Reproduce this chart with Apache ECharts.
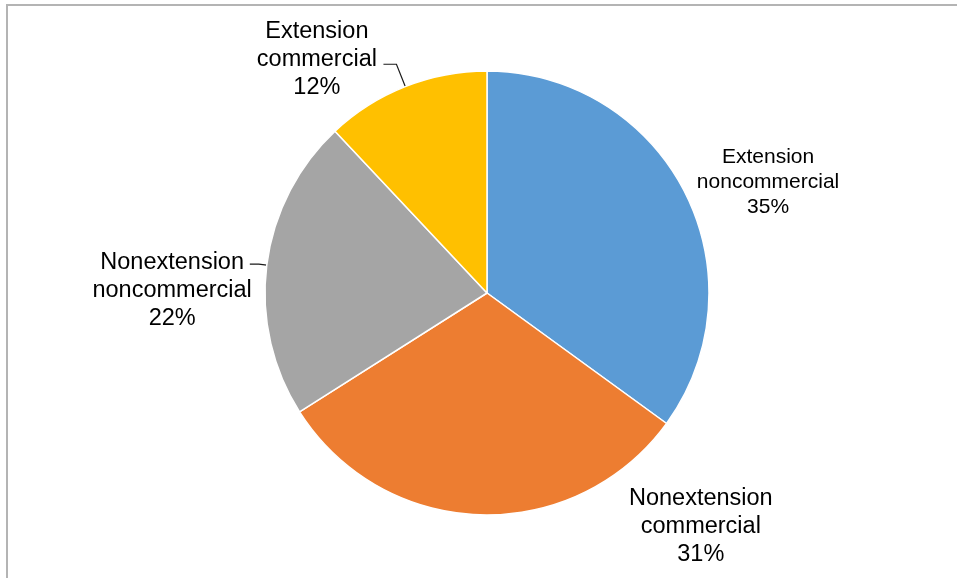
<!DOCTYPE html>
<html>
<head>
<meta charset="utf-8">
<style>html,body{margin:0;padding:0;background:#fff;}#c{width:957px;height:578px;}</style>
<script src="https://cdn.jsdelivr.net/npm/echarts@6/dist/echarts.min.js"></script>
</head>
<body>
<div id="c"></div>
<script>
// ---- data ----
const categories = ['Extension noncommercial', 'Nonextension commercial', 'Nonextension noncommercial', 'Extension commercial'];
const values = [35, 31, 22, 12];
const colors = ['#5B9BD5', '#ED7D31', '#A5A5A5', '#FFC000'];

// ---- label styling per slice (layout only) ----
const labelStyles = [
  { line: false, len: 22.5, len2: 0, dist: -8, tok: 'b', spTop: 0, spBot: 0 },
  { line: false, len: 11.8, len2: 0, dist: -293, tok: 't', spTop: 0, spBot: 0 },
  { line: true, len: 8, len2: 9, dist: -2, tok: 't', spTop: 53, spBot: 0 },
  { line: true, len: 24, len2: 13, dist: 6.5, tok: 't', spTop: 0, spBot: 10 }
];

const chart = echarts.init(document.getElementById('c'), null, { renderer: 'canvas' });

const data = categories.map((name, i) => {
  const s = labelStyles[i];
  return {
    name: name,
    value: values[i],
    itemStyle: { color: colors[i] },
    label: {
      distanceToLabelLine: s.dist,
      rich: {
        sTop: { fontSize: 4, lineHeight: s.spTop || 1 },
        sBot: { fontSize: 4, lineHeight: s.spBot || 1 }
      }
    },
    labelLine: { show: s.line, length: s.len, length2: s.len2 }
  };
});

chart.setOption({
  animation: false,
  backgroundColor: '#ffffff',
  graphic: [{
    type: 'rect',
    shape: { x: 7, y: 5, width: 2000, height: 2000 },
    style: { fill: 'none', stroke: '#b4b4b4', lineWidth: 2 },
    silent: true
  }],
  series: [{
    type: 'pie',
    center: [487, 293],
    radius: 222,
    startAngle: 90,
    clockwise: true,
    avoidLabelOverlap: false,
    percentPrecision: 0,
    itemStyle: { borderColor: '#ffffff', borderWidth: 1.5 },
    label: {
      show: true,
      position: 'outside',
      color: '#000000',
      fontFamily: 'Liberation Sans, Arial, sans-serif',
      formatter: function (p) {
        const s = labelStyles[p.dataIndex];
        const parts = p.name.split(' ');
        const lines = parts.concat([p.percent + '%']).map(t => '{' + s.tok + '|' + t + '}');
        if (s.spTop) lines.unshift('{sTop| }');
        if (s.spBot) lines.push('{sBot| }');
        return lines.join('\n');
      },
      rich: {
        t: { fontSize: 23.5, lineHeight: 28, align: 'center', color: '#000000', fontFamily: 'Liberation Sans, Arial, sans-serif' },
        b: { fontSize: 21, lineHeight: 25, align: 'center', color: '#000000', fontFamily: 'Liberation Sans, Arial, sans-serif' }
      }
    },
    labelLine: {
      show: true,
      smooth: false,
      lineStyle: { color: '#1a1a1a', width: 1.2 }
    },
    emphasis: { disabled: true },
    data: data
  }]
});
</script>
</body>
</html>
